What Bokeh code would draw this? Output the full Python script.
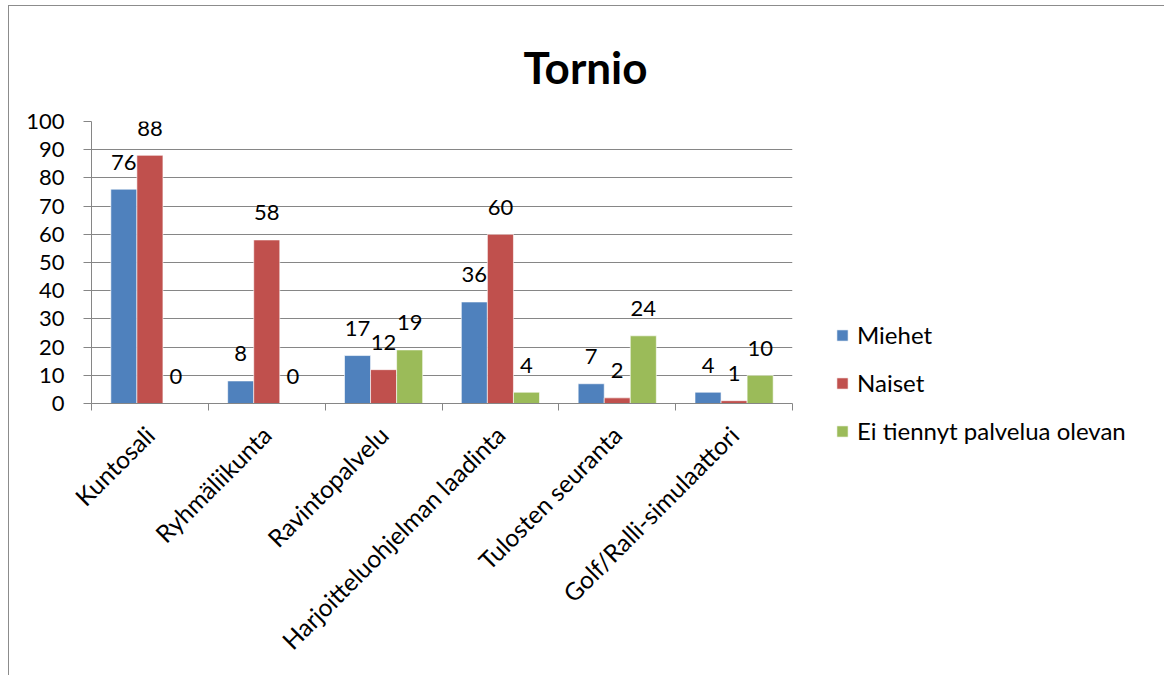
from bokeh.plotting import figure
from bokeh.models import (ColumnDataSource, FixedTicker, Range1d, Legend, LegendItem, LabelSet)
from bokeh.core.properties import value
from bokeh.transform import dodge
from bokeh.embed import file_html
from bokeh.resources import INLINE

categories = ["Kuntosali", "Ryhmäliikunta", "Ravintopalvelu",
              "Harjoitteluohjelman laadinta", "Tulosten seuranta", "Golf/Ralli-simulaattori"]
series_names = ["Miehet", "Naiset", "Ei tiennyt palvelua olevan"]
miehet = [76, 8, 17, 36, 7, 4]
naiset = [88, 58, 12, 60, 2, 1]
ei_tiennyt = [0, 0, 19, 4, 24, 10]
y_ticks = [0, 10, 20, 30, 40, 50, 60, 70, 80, 90, 100]
title_text = "Tornio"

colors = ["#4F81BD", "#C0504D", "#9BBB59"]
FONT = "Lato"
GRID = "#868686"

OX, OY = 9, 6
W, H = 1160 - OX, 675 - OY
L, R, T, B = 91 - OX, 792 - OX, 121 - OY, 403 - OY

centers = [i + 0.5 for i in range(len(categories))]
src = ColumnDataSource(dict(x=centers, m=miehet, n=naiset, e=ei_tiennyt,
                            ml=[str(v) for v in miehet],
                            nl=[str(v) for v in naiset],
                            el=[str(v) for v in ei_tiennyt]))

p = figure(frame_width=R - L, frame_height=B - T, output_backend="svg", toolbar_location=None,
           x_range=Range1d(0, len(categories)), y_range=Range1d(0, 100),
           min_border_left=L, min_border_right=0, min_border_top=T,
           min_border_bottom=H - B)
p.margin = (5, 0, 0, 8)
p.styles = {"border-left": "1px solid #8c8c8c", "border-top": "1px solid #8c8c8c",
            "border-right": "1px solid #8c8c8c"}
p.outline_line_color = None
p.background_fill_color = "white"
p.border_fill_color = "white"

bw = 0.223
keys = ["m", "n", "e"]
lkeys = ["ml", "nl", "el"]
offs = [-bw, 0, bw]
renderers = []
for k, lk, off, c in zip(keys, lkeys, offs, colors):
    r = p.vbar(x=dodge("x", off, range=p.x_range), top=k, width=bw, source=src,
               fill_color=c, line_color="white", line_width=0.6)
    renderers.append(r)
    lab = LabelSet(x=dodge("x", off, range=p.x_range), y=k, text=lk, source=src,
                   text_align="center", text_baseline="middle", y_offset=27,
                   text_font=value(FONT), text_font_size=value("22px"), text_color="black")
    p.add_layout(lab)

# title
p.title.text = title_text
p.title.align = "left"
p.title.text_font = FONT
p.title.text_font_size = "44px"
p.title.text_font_style = "bold"
p.title.text_color = "black"
p.title.offset = 432
p.title.standoff = 58

# axes
p.yaxis.ticker = FixedTicker(ticks=y_ticks)
p.yaxis.major_tick_out = 8
p.yaxis.major_tick_in = 0
p.yaxis.minor_tick_line_color = None
p.yaxis.axis_line_color = GRID
p.yaxis.major_tick_line_color = GRID
p.yaxis.major_label_text_font = FONT
p.yaxis.major_label_text_font_size = "22px"
p.yaxis.major_label_text_color = "black"
p.yaxis.major_label_standoff = 19

p.xaxis.ticker = FixedTicker(ticks=centers, minor_ticks=list(range(len(categories) + 1)))
p.xaxis.major_label_overrides = {c: name for c, name in zip(centers, categories)}
p.xaxis.major_tick_line_color = None
p.xaxis.minor_tick_line_color = GRID
p.xaxis.minor_tick_out = 7
p.xaxis.minor_tick_in = 0
p.xaxis.axis_line_color = GRID
p.xaxis.major_label_orientation = 0.785398
p.xaxis.major_label_text_font = FONT
p.xaxis.major_label_text_font_size = "24.5px"
p.xaxis.major_label_text_color = "black"
p.xaxis.major_label_standoff = 20

p.xgrid.grid_line_color = None
p.ygrid.grid_line_color = GRID
p.ygrid.ticker = FixedTicker(ticks=y_ticks)

# legend
legend = Legend(items=[LegendItem(label=n, renderers=[r]) for n, r in zip(series_names, renderers)],
                location=(43, -42), orientation="vertical", margin=0, padding=0,
                label_text_font=FONT, label_text_font_size="24px", label_text_color="black",
                glyph_width=14, glyph_height=14, spacing=19, label_standoff=8,
                border_line_color=None, background_fill_alpha=0)
p.add_layout(legend, "right")

open("out.html", "w").write(file_html(p, INLINE))
